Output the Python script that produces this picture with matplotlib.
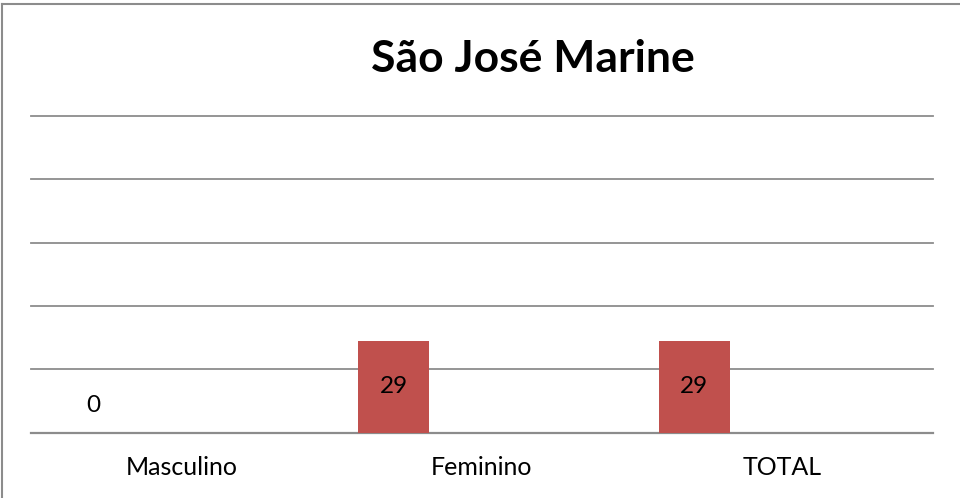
import matplotlib
matplotlib.use("Agg")
import matplotlib.pyplot as plt
from matplotlib.lines import Line2D
import numpy as np

categories = ["Masculino", "Feminino", "TOTAL"]
values = [0, 29, 29]
title = "São José Marine"

FONT = ["Lato", "DejaVu Sans"]

fig = plt.figure(figsize=(9.6, 4.98), dpi=100)
ax = fig.add_axes([31/960, 1 - 432.7/498, (933-31)/960, (432.7-116)/498])

x = np.arange(len(categories))
offset = -0.294
width = 0.236
bars = ax.bar(x + offset, values, width=width, color="#C0504D", zorder=3)

ax.set_xlim(-0.5, len(categories) - 0.5)
ax.set_ylim(0, 100)
ax.set_yticks(np.arange(0, 101, 20))
ax.yaxis.grid(True, color="#8c8c8c", linewidth=1.3, zorder=0)
for gl in ax.get_ygridlines():
    gl.set_clip_on(False)
ax.tick_params(axis="y", length=0, labelleft=False)
ax.tick_params(axis="x", length=0, pad=17)
ax.set_xticks(x)
ax.set_xticklabels(categories, fontsize=18, family=FONT)
for s in ["left", "right", "top"]:
    ax.spines[s].set_visible(False)
ax.spines["bottom"].set_color("#8c8c8c")
ax.spines["bottom"].set_linewidth(1.6)

for xi, v in zip(x, values):
    if v > 0:
        ax.text(xi + offset, v / 2, str(v), ha="center", va="center",
                fontsize=17.5, family=FONT, zorder=4)
    else:
        ax.annotate(str(v), (xi + offset, 0), xytext=(0, 27), textcoords="offset pixels",
                    ha="center", va="center", fontsize=17.5,
                    family=FONT, zorder=4)

fig.text(533/960, 1 - 59/498, title, ha="center", va="center", fontsize=32,
         fontweight="bold", family=FONT)

fig.add_artist(Line2D([1.5/960, 1.5/960], [0, 1 - 4.5/498], transform=fig.transFigure,
                      color="#8c8c8c", linewidth=1.5))
fig.add_artist(Line2D([1.5/960, 1], [1 - 4.5/498, 1 - 4.5/498], transform=fig.transFigure,
                      color="#8c8c8c", linewidth=1.5))

fig.savefig("out.png", dpi=100)
